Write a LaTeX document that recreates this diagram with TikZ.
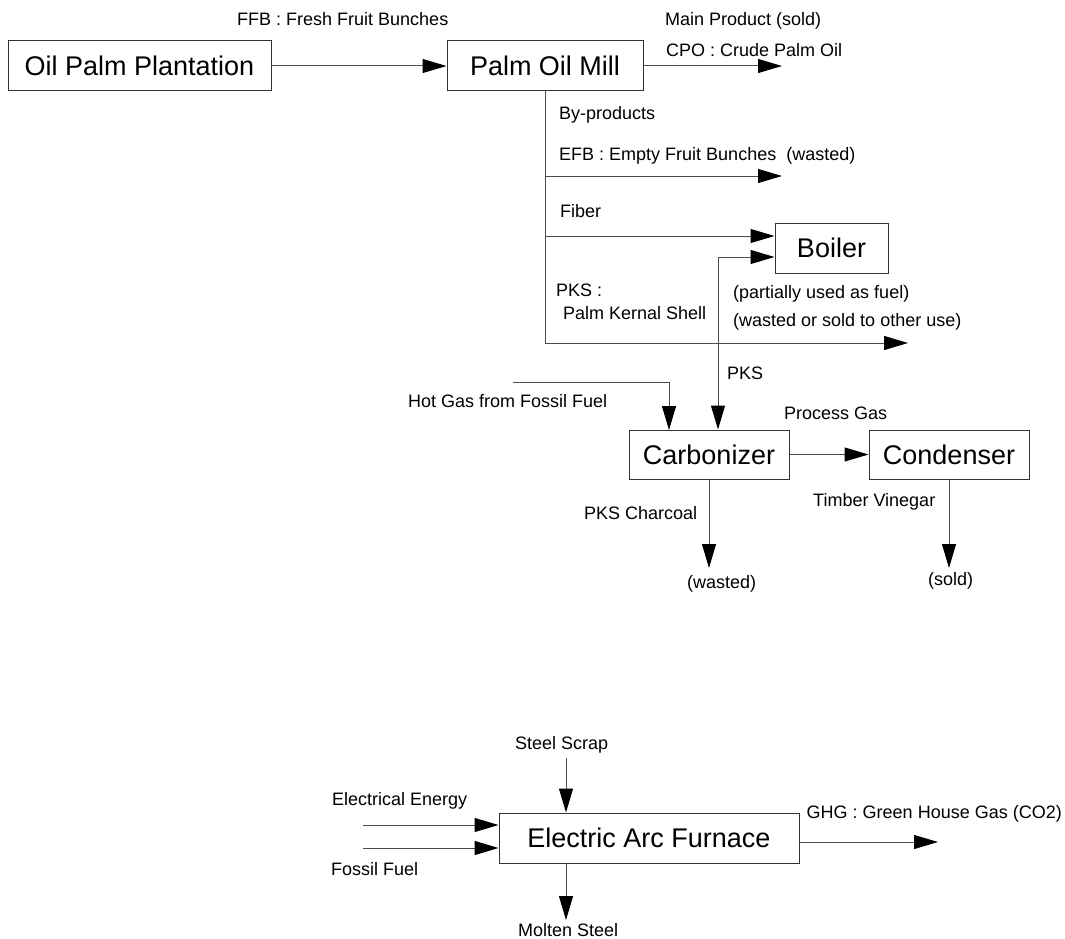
\documentclass[tikz,border=0pt]{standalone}
\usepackage{fontspec}
\setmainfont{Liberation Sans}
\usetikzlibrary{arrows.meta}
\begin{document}
\begin{tikzpicture}[x=1pt,y=-1pt,
  box/.style={draw=black!80, line width=1pt, inner sep=0pt, font=\fontsize{27}{30}\selectfont},
  lbl/.style={anchor=west, inner sep=0pt, font=\fontsize{18}{20}\selectfont},
  flow/.style={draw=black!70, line width=1pt},
  arr/.style={flow, -{Triangle[length=24pt,width=14pt,color=black,fill=black]}},
  darr/.style={flow, {Triangle[length=24pt,width=14pt,color=black,fill=black]}-{Triangle[length=24pt,width=14pt,color=black,fill=black]}}
]
\useasboundingbox (0,0) rectangle (1065,939);

% boxes
\node[box, minimum width=263pt, minimum height=50pt] (plant) at (139.5,66) {Oil Palm Plantation};
\node[box, minimum width=196pt, minimum height=50pt] (mill) at (545,66) {Palm Oil Mill};
\node[box, minimum width=113pt, minimum height=50pt] (boiler) at (831.5,248) {Boiler};
\node[box, minimum width=160pt, minimum height=49pt] (carb) at (709,454.5) {Carbonizer};
\node[box, minimum width=160pt, minimum height=49pt] (cond) at (949,454.5) {Condenser};
\node[box, minimum width=300pt, minimum height=50pt] (eaf) at (649,838) {Electric Arc Furnace};

% free ends
\coordinate (cpoEnd) at (782,66);
\coordinate (trunkEnd) at (545,343);
\coordinate (efbStart) at (545,176);
\coordinate (efbEnd) at (782,176);
\coordinate (fibStart) at (545,236);
\coordinate (pksEnd) at (908,343);
\coordinate (pksCorner) at (718,257);
\coordinate (hotStart) at (513,382);
\coordinate (hotEnd) at (669,430);
\coordinate (charEnd) at (709,568);
\coordinate (vinEnd) at (949,568);
\coordinate (scrapStart) at (566,758);
\coordinate (elecStart) at (363,825);
\coordinate (fossStart) at (363,848);
\coordinate (moltenEnd) at (566,920);
\coordinate (ghgEnd) at (938,842);

% connectors
\draw[arr] (plant.east) -- (mill.west);
\draw[arr] (mill.east) -- (cpoEnd);
\draw[flow] (mill.south) -- (trunkEnd);
\draw[arr] (efbStart) -- (efbEnd);
\draw[arr] (fibStart) -- (fibStart -| boiler.west);
\draw[arr] (trunkEnd) -- (pksEnd);
\draw[darr] (pksCorner -| boiler.west) -- (pksCorner) -- (pksCorner |- carb.north);
\draw[arr] (hotStart) -| (hotEnd);
\draw[arr] (carb.south) -- (charEnd);
\draw[arr] (carb.east) -- (cond.west);
\draw[arr] (cond.south) -- (vinEnd);
\draw[arr] (scrapStart) -- (scrapStart |- eaf.north);
\draw[arr] (elecStart) -- (elecStart -| eaf.west);
\draw[arr] (fossStart) -- (fossStart -| eaf.west);
\draw[arr] (scrapStart |- eaf.south) -- (moltenEnd);
\draw[arr] (ghgEnd -| eaf.east) -- (ghgEnd);

% labels
\node[lbl] (tffb) at (237,19) {FFB : Fresh Fruit Bunches};
\node[lbl] (tmain) at (665,21) {Main Product (sold)};
\node[lbl] (tcpo) at (666,50) {CPO : Crude Palm Oil};
\node[lbl] (tby) at (559,115) {By-products};
\node[lbl] (tefb) at (559,156) {EFB : Empty Fruit Bunches\ \ (wasted)};
\node[lbl] (tfib) at (560,211) {Fiber};
\node[lbl] (tpks1) at (556,290) {PKS :};
\node[lbl] (tpks2) at (563,313) {Palm Kernal Shell};
\node[lbl] (tpart) at (733,294) {(partially used as fuel)};
\node[lbl] (twos) at (733,322) {(wasted or sold to other use)};
\node[lbl] (tpks3) at (727,373) {PKS};
\node[lbl] (thot) at (408,401) {Hot Gas from Fossil Fuel};
\node[lbl] (tproc) at (784,413) {Process Gas};
\node[lbl] (tchar) at (584,513) {PKS Charcoal};
\node[lbl] (twaste) at (687,584) {(wasted)};
\node[lbl] (tvin) at (813,502) {Timber Vinegar};
\node[lbl] (tsold) at (928,581) {(sold)};
\node[lbl] (tscrap) at (515,745) {Steel Scrap};
\node[lbl] (telec) at (332,801) {Electrical Energy};
\node[lbl] (tfoss) at (331,869) {Fossil Fuel};
\node[lbl, anchor=south west] (tmolten) at (518,937) {Molten Steel};
\node[lbl, anchor=east] (tghg) at (1062,814) {GHG : Green House Gas (CO2)};
\end{tikzpicture}
\end{document}
